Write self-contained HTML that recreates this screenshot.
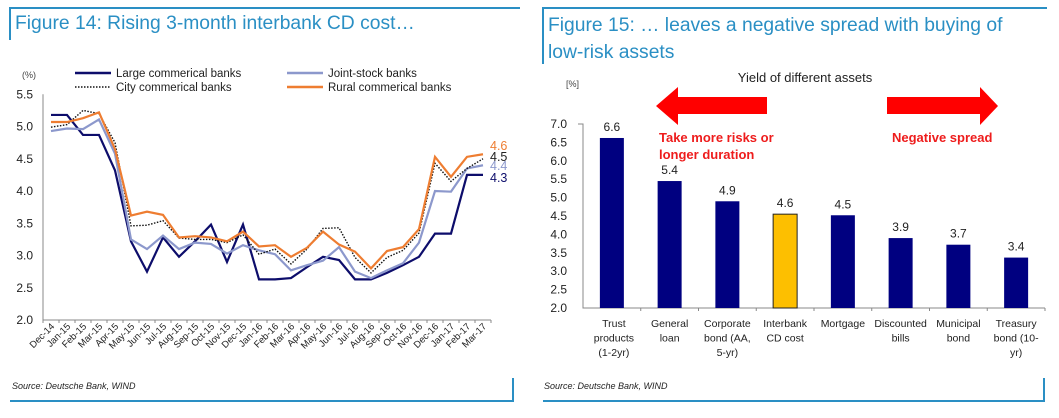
<!DOCTYPE html>
<html><head><meta charset="utf-8"><style>
body{margin:0;background:#fff;width:1059px;height:413px;overflow:hidden;font-family:"Liberation Sans",sans-serif}
svg text{font-family:"Liberation Sans",sans-serif}
</style></head><body>
<svg id="s" width="1059" height="413" xmlns="http://www.w3.org/2000/svg">
<g stroke="#2a8fc4" fill="none" stroke-width="2">
<path d="M10,40 V8 H520"/><path d="M10,401 H513 V378"/></g>
<g stroke="#2a8fc4" fill="none" stroke-width="2">
<path d="M543,64 V8 H1047"/><path d="M543,401 H1044 V378"/></g>
<text x="15" y="29" font-size="19.3" fill="#2a8fc4">Figure 14: Rising 3-month interbank CD cost…</text>
<text x="548" y="31" font-size="19.3" fill="#2a8fc4">Figure 15: … leaves a negative spread with buying of</text>
<text x="548" y="58" font-size="19.3" fill="#2a8fc4">low-risk assets</text>
<text x="12" y="389" font-size="9" font-style="italic" fill="#222">Source: Deutsche Bank, WIND</text>
<text x="544" y="389" font-size="9" font-style="italic" fill="#222">Source: Deutsche Bank, WIND</text>
<g id="lc"></g>
<g id="bc"></g>
</svg>
<script>
const months=["Dec-14","Jan-15","Feb-15","Mar-15","Apr-15","May-15","Jun-15","Jul-15","Aug-15","Sep-15","Oct-15","Nov-15","Dec-15","Jan-16","Feb-16","Mar-16","Apr-16","May-16","Jun-16","Jul-16","Aug-16","Sep-16","Oct-16","Nov-16","Dec-16","Jan-17","Feb-17","Mar-17"];
const largeBanks=[5.18,5.18,4.87,4.87,4.32,3.22,2.75,3.28,2.98,3.22,3.48,2.90,3.48,2.63,2.63,2.65,2.82,2.98,2.93,2.63,2.63,2.73,2.85,2.98,3.34,3.34,4.25,4.25];
const jointBanks=[4.93,4.97,4.96,5.11,4.58,3.25,3.10,3.31,3.10,3.20,3.18,3.03,3.16,3.08,3.02,2.77,2.85,2.92,3.13,2.75,2.65,2.77,2.88,3.20,4.00,3.99,4.35,4.40];
const cityBanks=[4.99,5.03,5.25,5.20,4.75,3.46,3.47,3.54,3.27,3.25,3.25,3.20,3.32,3.02,3.10,2.87,3.10,3.42,3.43,2.97,2.73,2.97,3.08,3.35,4.43,4.15,4.35,4.50];
const ruralBanks=[5.07,5.07,5.13,5.22,4.65,3.62,3.68,3.63,3.28,3.30,3.28,3.22,3.37,3.14,3.16,2.98,3.12,3.37,3.17,3.06,2.80,3.07,3.13,3.41,4.53,4.22,4.53,4.57];
const lineTicks=[2.0,2.5,3.0,3.5,4.0,4.5,5.0,5.5];
const endLabels=["4.6","4.5","4.4","4.3"];
const assets=[["Trust","products","(1-2yr)"],["General","loan"],["Corporate","bond (AA,","5-yr)"],["Interbank","CD cost"],["Mortgage"],["Discounted","bills"],["Municipal","bond"],["Treasury","bond (10-","yr)"]];
const yields=[6.62,5.45,4.9,4.55,4.52,3.9,3.72,3.37];
const yieldLabels=["6.6","5.4","4.9","4.6","4.5","3.9","3.7","3.4"];
const barTicks=[2.0,2.5,3.0,3.5,4.0,4.5,5.0,5.5,6.0,6.5,7.0];
const NS="http://www.w3.org/2000/svg";
function mk(p,t,a,txt){const e=document.createElementNS(NS,t);for(const k in a)e.setAttribute(k,a[k]);if(txt!==undefined)e.textContent=txt;p.appendChild(e);return e;}
// line chart
const lc=document.getElementById('lc');
const X0=43,X1=491,Y0=320,Y1=94.3;
const lx=i=>X0+(X1-X0)/months.length*(i+0.5);
const ly=v=>Y0-(v-2)/(5.5-2)*(Y0-Y1);
let e=mk(lc,'path',{d:`M${X0},${Y1} V${Y0} H${X1}`,stroke:'#888',fill:'none','stroke-width':1});

lineTicks.forEach(v=>{const t=mk(lc,'text',{x:33,y:ly(v)+4,'font-size':12,'text-anchor':'end',fill:'#222'},v.toFixed(1));
});
for(let i=0;i<=months.length;i++){const x=X0+(X1-X0)/months.length*i;mk(lc,'line',{x1:x,x2:x,y1:Y0,y2:Y0+3,stroke:'#888'});}
months.forEach((m,i)=>{const t=mk(lc,'text',{transform:`translate(${lx(i)+4},${Y0+7}) rotate(-45)`,'font-size':9.5,'text-anchor':'end',fill:'#222'},m);
});
const t0=mk(lc,'text',{x:22,y:78,'font-size':9,fill:'#444'},'(%)');
const series=[[largeBanks,'#0d0d6b',2.2,null,'series-large'],[jointBanks,'#8c98cc',2.2,null,'series-joint'],[cityBanks,'#111',1.4,'1.5,1.5','series-city'],[ruralBanks,'#ee7d31',2.2,null,'series-rural']];
series.forEach(s=>{const p=mk(lc,'path',{d:s[0].map((v,i)=>(i?'L':'M')+lx(i)+','+ly(v)).join(''),stroke:s[1],fill:'none','stroke-width':s[2]});
if(s[3])p.setAttribute('stroke-dasharray',s[3]);
});
const legend=[[75,73,'#0d0d6b',null,'Large commerical banks'],[287,73,'#8c98cc',null,'Joint-stock banks'],[75,87,'#111','1.5,1.5','City commerical banks'],[287,87,'#ee7d31',null,'Rural commerical banks']];
legend.forEach(l=>{const g=mk(lc,'g',{});
const ln=mk(g,'line',{x1:l[0],x2:l[0]+36,y1:l[1],y2:l[1],stroke:l[2],'stroke-width':l[3]?1.6:2.5});if(l[3])ln.setAttribute('stroke-dasharray',l[3]);
mk(g,'text',{x:l[0]+41,y:l[1]+4,'font-size':11.5,fill:'#222'},l[4]);});
const endCols=['#ee7d31','#222','#8c98cc','#0d0d6b'],endY=[150,161,170,182];
endLabels.forEach((s,i)=>{const t=mk(lc,'text',{x:490,y:endY[i],'font-size':12.5,fill:endCols[i]},s);});
// bar chart
const bc=document.getElementById('bc');
const BX0=583,BX1=1045,BY0=308,BY1=124;
const cw=(BX1-BX0)/assets.length;
const bxc=i=>BX0+cw*(i+0.5);
const by=v=>BY0-(v-2)/(7-2)*(BY0-BY1);
e=mk(bc,'path',{d:`M${BX0-5},${BY1} H${BX0} V${BY0} H${BX1}`,stroke:'#888',fill:'none'});

barTicks.forEach(v=>{const t=mk(bc,'text',{x:567,y:by(v)+4,'font-size':12,'text-anchor':'end',fill:'#222'},v.toFixed(1));
});
for(let i=1;i<=assets.length;i++){const x=BX0+cw*i;mk(bc,'line',{x1:x,x2:x,y1:BY0,y2:BY0+3,stroke:'#888'});}
yields.forEach((v,i)=>{const r=mk(bc,'rect',{x:bxc(i)-12,y:by(v),width:24,height:BY0-by(v),fill:i===3?'#fdbf00':'#000080',stroke:i===3?'#222':'none','stroke-width':1});

const t=mk(bc,'text',{x:bxc(i),y:by(v)-7,'font-size':12,'text-anchor':'middle',fill:'#222'},yieldLabels[i]);

assets[i].forEach((ln,j)=>{const c=mk(bc,'text',{x:bxc(i)+(i===0?2:0),y:327+j*14.5,'font-size':10.5,'text-anchor':'middle',fill:'#222'},ln);
});});
let t=mk(bc,'text',{x:566,y:87,'font-size':9,fill:'#444'},'[%]');
t=mk(bc,'text',{x:805,y:82,'font-size':13,'text-anchor':'middle',fill:'#222'},'Yield of different assets');
e=mk(bc,'polygon',{points:'656,106 678,87 678,97 767,97 767,114 678,114 678,125',fill:'#ff0000'});
e=mk(bc,'polygon',{points:'887,97 980,97 980,87 998,106 980,125 980,114 887,114',fill:'#ff0000'});
t=mk(bc,'text',{x:659,y:142,'font-size':13,'font-weight':'bold',fill:'#ee1c1c'},'Take more risks or');
t=mk(bc,'text',{x:659,y:159,'font-size':13,'font-weight':'bold',fill:'#ee1c1c'},'longer duration');
t=mk(bc,'text',{x:892,y:142,'font-size':13,'font-weight':'bold',fill:'#ee1c1c'},'Negative spread');
</script>
</body></html>
